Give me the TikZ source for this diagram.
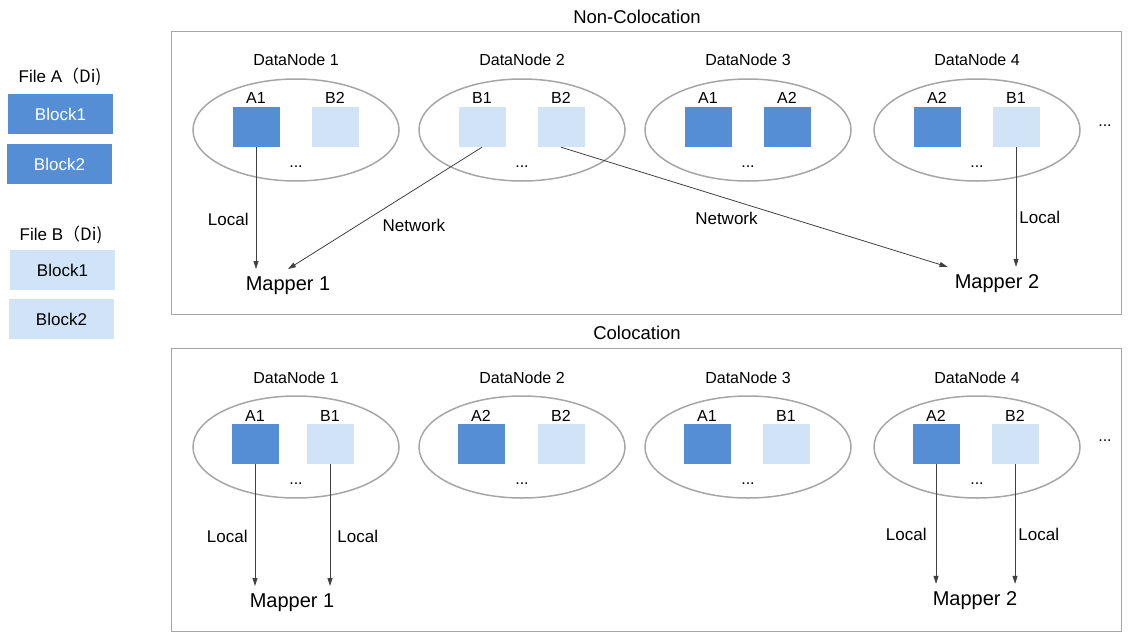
\documentclass[tikz,border=0pt]{standalone}
\usepackage{fontspec}
\setmainfont{Liberation Sans}
\newfontfamily\cjk{Noto Sans CJK SC}
\usetikzlibrary{shapes.geometric,arrows.meta,positioning}
\definecolor{blkdark}{RGB}{85,142,213}
\definecolor{blklight}{RGB}{209,228,247}
\definecolor{linegray}{RGB}{166,166,166}
\definecolor{arrowgray}{RGB}{64,64,64}

\begin{document}
\begin{tikzpicture}[x=1pt,y=-1pt,
fs/.style={font=\fontsize{#1}{#1}\selectfont},
frame/.style={draw=linegray, line width=1pt},
dnode/.style={ellipse, draw=linegray, line width=1.5pt, minimum width=206pt, minimum height=102pt, inner sep=0pt},
blockA/.style={fill=blkdark, minimum width=47pt, minimum height=40pt, inner sep=0pt},
blockB/.style={fill=blklight, minimum width=47pt, minimum height=40pt, inner sep=0pt},
legend/.style={minimum width=105pt, minimum height=40pt, inner sep=0pt, fs=17},
mapper/.style={anchor=base, inner sep=7pt, fs=20},
link/.style={draw=arrowgray, line width=0.8pt, -{Triangle[length=8pt,width=5pt]}},
lab/.style={fs=17, inner sep=2pt}]
\useasboundingbox (0,0) rectangle (1134,640);
% legend
\node[fs=17] (fileA) at (60,77) {File A\cjk{（}Di)};
\node[legend, fill=blkdark, text=white] (fileA-1) at (60.5,114) {Block1};
\node[legend, fill=blkdark, text=white] (fileA-2) at (59.5,164) {Block2};
\node[fs=17] (fileB) at (61,235) {File B\cjk{（}Di)};
\node[legend, fill=blklight] (fileB-1) at (62.5,270) {Block1};
\node[legend, fill=blklight] (fileB-2) at (61.5,319) {Block2};
% frames
\draw[frame] (171,31) rectangle (1121,314);
\node[fs=18.5] (title-top) at (637,17) {Non-Colocation};
\draw[frame] (171,348) rectangle (1121,631);
\node[fs=18.5] (title-bot) at (637,333) {Colocation};
% non-colocation row
\foreach \n/\x/\la/\sa/\lb/\sb in {1/296/A1/blockA/B2/blockB, 2/522/B1/blockB/B2/blockB,
    3/748/A1/blockA/A2/blockA, 4/977/A2/blockA/B1/blockB} {
  \node[dnode] (top-\n) at (\x,130) {};
  \node[fs=16] (top-\n-t) at (\x,60) {DataNode \n};
  \node[\sa] (top-\n-a) at (\x-40,127) {};
  \node[\sb] (top-\n-b) at (\x+39,127) {};
  \node[fs=16, inner sep=1pt, above=2pt of top-\n-a] (top-\n-al) {\la};
  \node[fs=16, inner sep=1pt, above=2pt of top-\n-b] (top-\n-bl) {\lb};
  \node[fs=16] (top-\n-d) at (\x,167) {...};
}
\node[fs=16] (top-more) at (1105,126) {...};
\node[mapper] (top-m1) at (288,290) {Mapper 1};
\node[mapper] (top-m2) at (997,288) {Mapper 2};
\draw[link] (top-1-a.south) -- (top-1-a.south |- top-m1.north)
  node[lab, pos=0.59, left=5pt] (top-l1) {Local};
\draw[link] (top-2-a.south) -- (top-m1.north)
  node[lab, pos=0.643, right=23pt] (top-n1) {Network};
\draw[link] (top-2-b.south) -- (top-m2.north west)
  node[lab, pos=0.428, below=11pt] (top-n2) {Network};
\draw[link] (top-4-b.south) -- (top-4-b.south |- top-m2.north)
  node[lab, pos=0.59, right=1pt] (top-l2) {Local};
% colocation row
\foreach \n/\x/\d/\la/\lb in {1/296/34/A1/B1, 2/522/39/A2/B2, 3/748/38/A1/B1, 4/977/38/A2/B2} {
  \node[dnode] (bot-\n) at (\x,447) {};
  \node[fs=16] (bot-\n-t) at (\x,378) {DataNode \n};
  \node[blockA] (bot-\n-a) at (\x-41,444) {};
  \node[blockB] (bot-\n-b) at (\x+\d,444) {};
  \node[fs=16, inner sep=1pt, above=1.5pt of bot-\n-a] (bot-\n-al) {\la};
  \node[fs=16, inner sep=1pt, above=1.5pt of bot-\n-b] (bot-\n-bl) {\lb};
  \node[fs=16] (bot-\n-d) at (\x,484) {...};
}
\node[fs=16] (bot-more) at (1105,441) {...};
\node[mapper] (bot-m1) at (292,607) {Mapper 1};
\node[mapper] (bot-m2) at (975,605) {Mapper 2};
\draw[link] (bot-1-a.south) -- (bot-1-a.south |- bot-m1.north)
  node[lab, pos=0.59, left=5pt] (bot-l1) {Local};
\draw[link] (bot-1-b.south) -- (bot-1-b.south |- bot-m1.north)
  node[lab, pos=0.59, right=5pt] (bot-l2) {Local};
\draw[link] (bot-4-a.south) -- (bot-4-a.south |- bot-m2.north)
  node[lab, pos=0.59, left=7pt] (bot-l3) {Local};
\draw[link] (bot-4-b.south) -- (bot-4-b.south |- bot-m2.north)
  node[lab, pos=0.59, right=1pt] (bot-l4) {Local};
\end{tikzpicture}
\end{document}
